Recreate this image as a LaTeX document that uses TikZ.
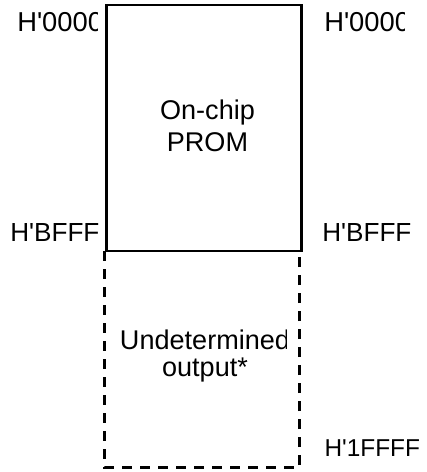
\documentclass[tikz,border=0pt]{standalone}
\usepackage{fontspec}
\setmainfont{Liberation Sans}
\newcommand{\apo}{\textquotesingle}
\begin{document}
\begin{tikzpicture}[x=0.75pt,y=-0.75pt,
  lbl/.style={inner sep=0pt,anchor=base west},
  boxtxt/.style={inner sep=0pt,anchor=base,align=center},
  solidbox/.style={draw=black,line width=1.9pt,inner sep=0pt},
  dashside/.style={draw=black,line width=1.9pt,dash pattern=on 7.5pt off 6pt}]
\useasboundingbox (0,0) rectangle (426,472);
% boxes
\node[inner sep=0pt,minimum width=196.5*0.75pt,minimum height=249*0.75pt] (undet) at (202.5,342.5) {};
\coordinate (uTL) at (104.7,251);
\coordinate (uTR) at (299.7,251);
\coordinate (uBL) at (104.7,467.5);
\coordinate (uBR) at (299.7,467.5);
\draw[dashside] (uTL) -- (uBL) -- (uBR) -- (uTR);
\node[solidbox,minimum width=195*0.75pt,minimum height=246*0.75pt] (prom) at (203.8,128) {};
% box texts (base anchor = baseline of last line)
\node[boxtxt,font=\fontsize{20.3}{23.8}\selectfont] (promtxt) at (207.5,151) {On-chip\\PROM};
\begin{scope}
\clip (106,300) rectangle (286,400);
\node[boxtxt,font=\fontsize{20.3}{20.2}\selectfont] (undettxt) at (205,376) {Undetermined\\output*};
\end{scope}
% address labels
\begin{scope}
\clip (0,0) rectangle (97.5,60);
\node[lbl,font=\fontsize{20.5}{24}\selectfont] (l0) at (17,31.7) {H\apo 0000};
\end{scope}
\begin{scope}
\clip (310,0) rectangle (404.5,60);
\node[lbl,font=\fontsize{20.5}{24}\selectfont] (r0) at (324,31.7) {H\apo 0000};
\end{scope}
\node[lbl,font=\fontsize{19.6}{24}\selectfont] (lb) at (10,241.7) {H\apo BFFF};
\node[lbl,font=\fontsize{19.6}{24}\selectfont] (rb) at (322,241.7) {H\apo BFFF};
\node[lbl,font=\fontsize{18.3}{24}\selectfont] (r1) at (324.3,456) {H\apo 1FFFF};
\end{tikzpicture}
\end{document}
